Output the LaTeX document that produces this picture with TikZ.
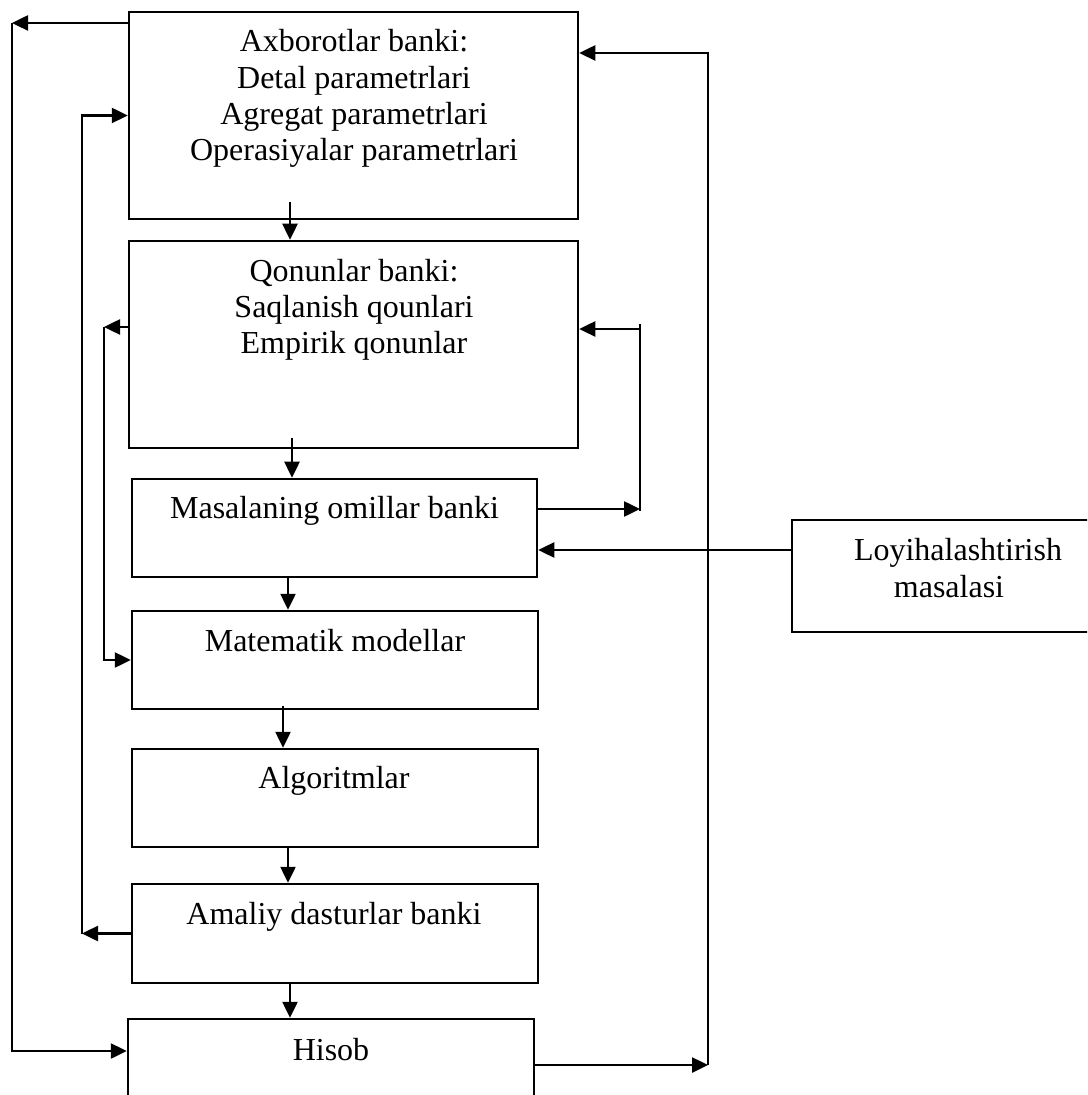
\documentclass[tikz,border=0pt]{standalone}
\usepackage{fontspec}
\setmainfont{Liberation Serif}
\usetikzlibrary{arrows.meta}
\begin{document}
\begin{tikzpicture}[x=0.5pt,y=-0.5pt,
  box/.style={draw,line width=1.25pt,rectangle,inner sep=0pt},
  lbl/.style={anchor=base,inner sep=0pt,font=\fontsize{16pt}{18.4pt}\selectfont},
  wire/.style={line width=1.25pt},
  arr/.style={wire,-{Triangle[length=8pt,width=7.5pt]}}]
\clip (0,0) rectangle (1087,1095);
\fill[white] (0,0) rectangle (1087,1095);

% blocks
\node[box,minimum width=224.5pt,minimum height=103.5pt] (b1) at (353.5,115.5) {};
\node[box,minimum width=224.5pt,minimum height=103.5pt] (b2) at (353.5,344.5) {};
\node[box,minimum width=202.5pt,minimum height=49pt] (b3) at (334.5,528) {};
\node[box,minimum width=203pt,minimum height=49pt] (b4) at (335,660) {};
\node[box,minimum width=203pt,minimum height=49pt] (b5) at (335,798) {};
\node[box,minimum width=203pt,minimum height=49.5pt] (b6) at (335,933.5) {};
\node[box,minimum width=203pt,minimum height=56pt] (b7) at (331,1075) {};
\node[box,minimum width=169pt,minimum height=56pt] (b8) at (961,576) {};

% texts
\node[lbl] (t1a) at (354,52) {Axborotlar banki:};
\node[lbl] (t1b) at (354,89) {Detal parametrlari};
\node[lbl] (t1c) at (354,125) {Agregat parametrlari};
\node[lbl] (t1d) at (354,161) {Operasiyalar parametrlari};
\node[lbl] (t2a) at (354,282) {Qonunlar banki:};
\node[lbl] (t2b) at (354,318) {Saqlanish qounlari};
\node[lbl] (t2c) at (354,354) {Empirik qonunlar};
\node[lbl] (t3) at (334.5,518) {Masalaning omillar banki};
\node[lbl] (t4) at (335,651) {Matematik modellar};
\node[lbl] (t5) at (334,788) {Algoritmlar};
\node[lbl] (t6) at (334,924) {Amaliy dasturlar banki};
\node[lbl] (t7) at (331,1060) {Hisob};
\node[lbl] (t8a) at (958,560) {Loyihalashtirish};
\node[lbl] (t8b) at (949,597) {masalasi};

% downward chain
\coordinate (s12) at (290,202);
\coordinate (s23) at (292,438);
\coordinate (s34) at (288,577);
\coordinate (s45) at (283,706);
\coordinate (s56) at (288,847);
\coordinate (s67) at (290,983);
\draw[arr] (s12) -- (s12 |- b2.north);
\draw[arr] (s23) -- (s23 |- b3.north);
\draw[arr] (s34) -- (s34 |- b4.north);
\draw[arr] (s45) -- (s45 |- b5.north);
\draw[arr] (s56) -- (s56 |- b6.north);
\draw[arr] (s67) -- (s67 |- b7.north);

% outer left loop
\coordinate (L1top) at (12,23);
\coordinate (L1bot) at (12,1051);
\draw[arr] (L1top -| b1.west) -- (L1top);
\draw[arr] (L1top) -- (L1bot) -- (L1bot -| b7.west);

% middle left loop
\coordinate (L2top) at (82,115.5);
\coordinate (L2bot) at (82,933.5);
\draw[arr] (b6.west) -- (L2bot);
\draw[arr] (L2bot) -- (L2top) -- (b1.west);

% inner left loop
\coordinate (L3top) at (104,327);
\coordinate (L3bot) at (104,660);
\draw[arr] (L3top -| b2.west) -- (L3top);
\draw[arr] (L3top) -- (L3bot) -- (b4.west);

% right feedback between b3 and b2
\coordinate (R1top) at (640,324);
\coordinate (R1bot) at (640,511);
\coordinate (R1in) at (640,329);
\coordinate (R1out) at (640,509);
\draw[wire] (R1top) -- (R1bot);
\draw[arr] (R1in) -- (R1in -| b2.east);
\draw[arr] (R1out -| b3.east) -- (R1out);

% task input
\coordinate (Lo) at (792,550);
\draw[arr] (Lo -| b8.west) -- (Lo -| b3.east);

% outer right loop
\coordinate (R2bot) at (708,1065);
\coordinate (R2top) at (708,53);
\draw[arr] (R2bot -| b7.east) -- (R2bot);
\draw[arr] (R2bot) -- (R2top) -- (R2top -| b1.east);
\end{tikzpicture}
\end{document}
